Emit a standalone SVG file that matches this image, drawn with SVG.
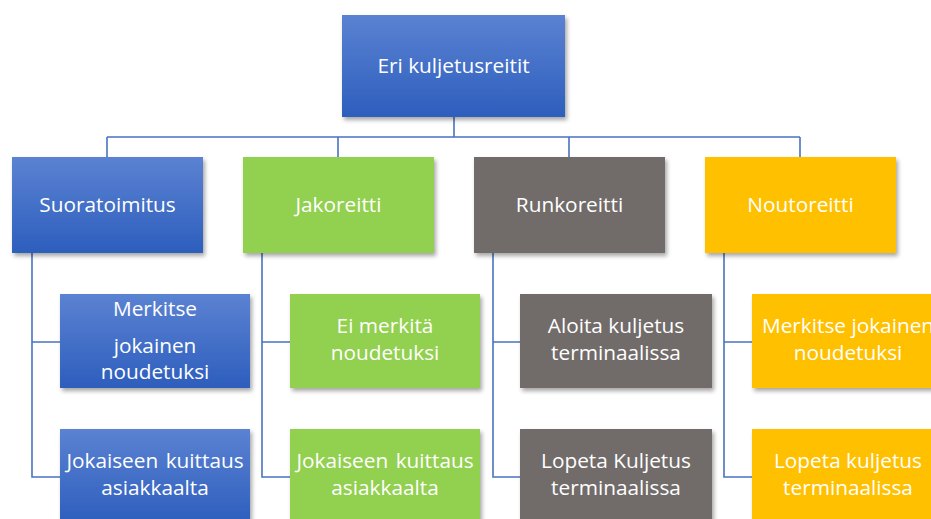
<svg xmlns="http://www.w3.org/2000/svg" width="931" height="519" viewBox="0 0 931 519">
<defs>
<linearGradient id="blue" x1="0" y1="0" x2="0" y2="1">
<stop offset="0" stop-color="#5b82d2"/>
<stop offset="1" stop-color="#2d5ebd"/>
</linearGradient>
<filter id="sh" x="-10%" y="-10%" width="125%" height="130%">
<feDropShadow dx="2" dy="3" stdDeviation="2" flood-color="#000" flood-opacity="0.35"/>
</filter>
</defs>
<style>
.b{fill:url(#blue);filter:url(#sh)}
.g{fill:#92d050;filter:url(#sh)}
.k{fill:#716c6a;filter:url(#sh)}
.o{fill:#ffc000;filter:url(#sh)}
text{font-family:"Open Sans","Liberation Sans",sans-serif;font-size:20.8px;fill:#fff;text-anchor:middle}
.c{fill:none;stroke:#4a72c0;stroke-width:1.6}
</style>
<g id="connectors">
<path class="c" d="M454 117V137M107 137H800M107 137V157M338 137V157M569 137V157M800 137V157"/>
<path class="c" d="M32 253V477H60M32 342H60"/>
<path class="c" d="M262 253V477H290M262 342H290"/>
<path class="c" d="M493 253V477H520M493 342H520"/>
<path class="c" d="M724 253V477H752M724 342H752"/>
</g>
<g id="root"><rect class="b" x="342" y="15" width="223" height="102"/><text x="453.5" y="73">Eri kuljetusreitit</text></g>
<g id="suoratoimitus"><rect class="b" x="12" y="157" width="191" height="96"/><text x="107.5" y="212">Suoratoimitus</text></g>
<g id="jakoreitti"><rect class="g" x="243" y="157" width="191" height="96"/><text x="338.5" y="212">Jakoreitti</text></g>
<g id="runkoreitti"><rect class="k" x="474" y="157" width="191" height="96"/><text x="569.5" y="212">Runkoreitti</text></g>
<g id="noutoreitti"><rect class="o" x="705" y="157" width="191" height="96"/><text x="800.5" y="212">Noutoreitti</text></g>
<g id="s1"><rect class="b" x="60" y="294" width="190" height="94"/><text x="155" y="316">Merkitse</text><text x="155" y="353">jokainen</text><text x="155" y="379">noudetuksi</text></g>
<g id="s2"><rect class="b" x="60" y="429" width="190" height="95"/><text x="155" y="468" word-spacing="2">Jokaiseen kuittaus</text><text x="155" y="495">asiakkaalta</text></g>
<g id="j1"><rect class="g" x="290" y="294" width="190" height="94"/><text x="385" y="333">Ei merkitä</text><text x="385" y="360">noudetuksi</text></g>
<g id="j2"><rect class="g" x="290" y="429" width="190" height="95"/><text x="385" y="468" word-spacing="2">Jokaiseen kuittaus</text><text x="385" y="495">asiakkaalta</text></g>
<g id="r1"><rect class="k" x="520" y="294" width="192" height="94"/><text x="616" y="333">Aloita kuljetus</text><text x="616" y="360">terminaalissa</text></g>
<g id="r2"><rect class="k" x="520" y="429" width="192" height="95"/><text x="616" y="468">Lopeta Kuljetus</text><text x="616" y="495">terminaalissa</text></g>
<g id="n1"><rect class="o" x="752" y="294" width="192" height="94"/><text x="848" y="333">Merkitse jokainen</text><text x="848" y="360">noudetuksi</text></g>
<g id="n2"><rect class="o" x="752" y="429" width="192" height="95"/><text x="848" y="468">Lopeta kuljetus</text><text x="848" y="495">terminaalissa</text></g>
</svg>
